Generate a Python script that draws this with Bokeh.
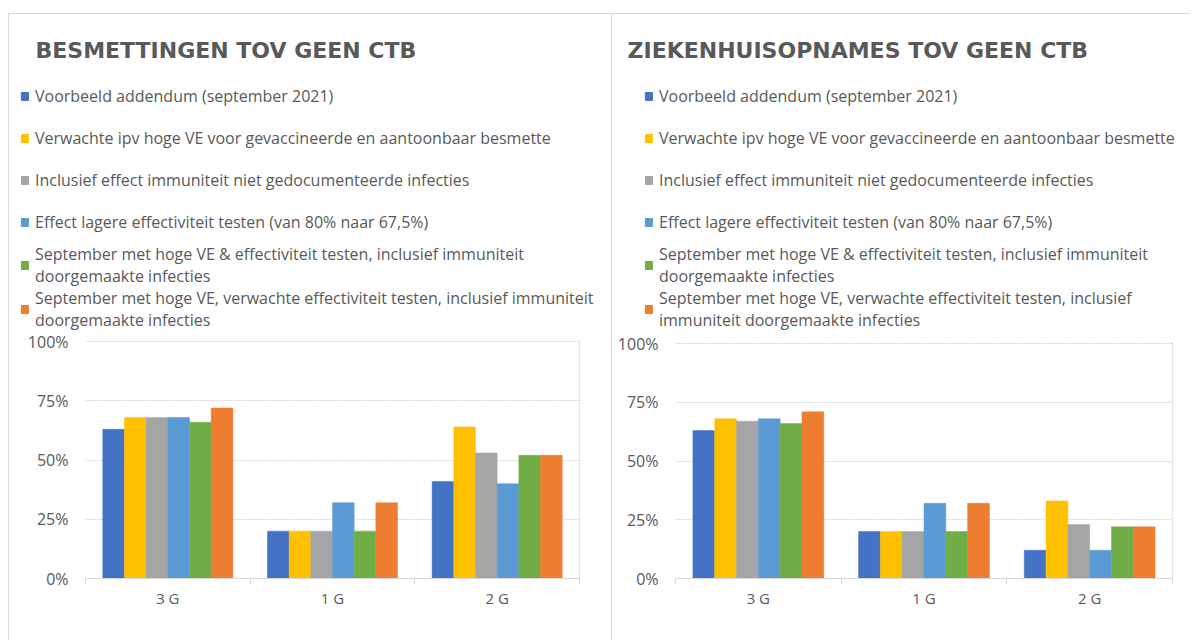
from bokeh.plotting import figure
from bokeh.models import (FixedTicker, Legend, LegendItem, Label, PrintfTickFormatter,
                          Range1d, ColumnDataSource, Spacer, LinearAxis)
from bokeh.layouts import row, column
from bokeh.embed import file_html
from bokeh.resources import INLINE

# ---------------- data ----------------
categories = ["3 G", "1 G", "2 G"]

series_names = [
    "Voorbeeld addendum (september 2021)",
    "Verwachte ipv hoge VE voor gevaccineerde en aantoonbaar besmette",
    "Inclusief effect immuniteit niet gedocumenteerde infecties",
    "Effect lagere effectiviteit testen (van 80% naar 67,5%)",
    "September met hoge VE & effectiviteit testen, inclusief immuniteit doorgemaakte infecties",
    "September met hoge VE, verwachte effectiviteit testen, inclusief immuniteit doorgemaakte infecties",
]
colors = ["#4472C4", "#FFC000", "#A5A5A5", "#5B9BD5", "#70AD47", "#ED7D31"]

# Besmettingen t.o.v. geen CTB (%)
besm_voorbeeld = [63, 20, 41]
besm_verwachte = [68, 20, 64]
besm_inclusief = [68, 20, 53]
besm_lagere = [68, 32, 40]
besm_sept_hoog = [66, 20, 52]
besm_sept_verw = [72, 32, 52]

# Ziekenhuisopnames t.o.v. geen CTB (%)
zkh_voorbeeld = [63, 20, 12]
zkh_verwachte = [68, 20, 33]
zkh_inclusief = [67, 20, 23]
zkh_lagere = [68, 32, 12]
zkh_sept_hoog = [66, 20, 22]
zkh_sept_verw = [71, 32, 22]

y_ticks = [0, 25, 50, 75, 100]

# legend label wrapping per panel
labels_left = [
    series_names[0], series_names[1], series_names[2], series_names[3],
    "September met hoge VE & effectiviteit testen, inclusief immuniteit\ndoorgemaakte infecties",
    "September met hoge VE, verwachte effectiviteit testen, inclusief immuniteit\ndoorgemaakte infecties",
]
labels_right = [
    series_names[0], series_names[1], series_names[2], series_names[3],
    "September met hoge VE & effectiviteit testen, inclusief immuniteit\ndoorgemaakte infecties",
    "September met hoge VE, verwachte effectiviteit testen, inclusief\nimmuniteit doorgemaakte infecties",
]

TEXT = "#595959"
GRID = "#d9d9d9"
FONT = "Open Sans"
TOP_H = 317
NAN = float("nan")


def make_header(title, labels, width, title_x, legend_xy, styles):
    h = figure(width=width, height=TOP_H, min_border=0,
               x_range=Range1d(0, width), y_range=Range1d(0, TOP_H),
               x_axis_type=None, y_axis_type=None,
               output_backend="svg", toolbar_location=None, styles=styles)
    h.frame_align = False
    h.outline_line_color = None
    h.grid.visible = False
    items = []
    for col, lab in zip(colors, labels):
        # legend swatch only (nothing drawn in the plot)
        r = h.vbar(x=[NAN], top=[NAN], width=1, fill_color=col, line_color=col)
        items.append(LegendItem(label=lab, renderers=[r]))
    legend = Legend(items=items, location=legend_xy, orientation="vertical",
                    label_text_font=FONT, label_text_font_size="16px",
                    label_text_color=TEXT, label_text_line_height=1.25,
                    label_height=42, glyph_height=10, glyph_width=9,
                    label_standoff=6, spacing=-1, padding=0, margin=0,
                    border_line_color=None, background_fill_alpha=0)
    h.add_layout(legend)
    t = Label(x=title_x, y=TOP_H - 57 + 21, x_units="screen", y_units="screen",
              text=title, text_font="DejaVu Sans",
              text_font_style="bold", text_font_size="22px", text_color=TEXT,
              text_baseline="alphabetic")
    h.add_layout(t)
    return h


def make_bars(series, width, bl, br, bt, bb, styles):
    p = figure(width=width, height=310, min_border_left=bl, min_border_right=br,
               min_border_top=bt, min_border_bottom=bb,
               x_range=Range1d(0, len(categories)), y_range=Range1d(0, 100.5),
               output_backend="svg", toolbar_location=None, styles=styles)
    p.frame_align = False
    p.outline_line_color = None

    n = len(series)
    group = 0.79
    bw = group / n
    for j, (vals, col) in enumerate(zip(series, colors)):
        xs = [i + 0.5 + (j - (n - 1) / 2) * bw for i in range(len(categories))]
        src = ColumnDataSource(dict(x=xs, top=vals))
        p.vbar(x="x", top="top", width=bw, bottom=0, source=src,
               fill_color=col, line_color=col, line_width=0.5)

    # y axis
    p.yaxis.ticker = FixedTicker(ticks=y_ticks)
    p.yaxis.formatter = PrintfTickFormatter(format="%d%%")
    p.yaxis.axis_line_color = None
    p.yaxis.major_tick_line_color = None
    p.yaxis.minor_tick_line_color = None
    p.yaxis.major_tick_out = 0
    p.yaxis.major_tick_in = 0
    p.yaxis.major_label_standoff = 17
    p.yaxis.major_label_text_font = FONT
    p.yaxis.major_label_text_font_size = "16px"
    p.yaxis.major_label_text_color = TEXT

    # right border line of the plot area (no ticks, no labels)
    ra = LinearAxis(ticker=FixedTicker(ticks=[]), axis_line_color=GRID,
                    axis_line_dash="2 1", major_tick_line_color=None,
                    minor_tick_line_color=None, major_label_text_font_size="0px")
    p.add_layout(ra, "right")

    # x axis: labels at category centres, ticks at boundaries
    centres = [i + 0.5 for i in range(len(categories))]
    bounds = [i for i in range(len(categories) + 1)]
    p.xaxis.ticker = FixedTicker(ticks=centres, minor_ticks=bounds)
    p.xaxis.major_label_overrides = {c: lab for c, lab in zip(centres, categories)}
    p.xaxis.axis_line_color = GRID
    p.xaxis.major_tick_line_color = None
    p.xaxis.major_tick_out = 0
    p.xaxis.major_tick_in = 0
    p.xaxis.minor_tick_line_color = GRID
    p.xaxis.minor_tick_out = 6
    p.xaxis.minor_tick_in = 0
    p.xaxis.major_label_standoff = 3
    p.xaxis.major_label_text_font = FONT
    p.xaxis.major_label_text_font_size = "15px"
    p.xaxis.major_label_text_color = TEXT

    p.ygrid.ticker = FixedTicker(ticks=y_ticks)
    p.ygrid.grid_line_color = GRID
    p.ygrid.grid_line_dash = "2 1"
    p.xgrid.visible = False
    return p


B = f"1px solid {GRID}"
left_head = make_header("BESMETTINGEN TOV GEEN CTB", labels_left, 604, 26, (11, 0),
                        {"border-top": B, "border-left": B, "border-right": B})
left_bars = make_bars([besm_voorbeeld, besm_verwachte, besm_inclusief, besm_lagere,
                       besm_sept_hoog, besm_sept_verw],
                      604, 76, 34, 10, 62, {"border-left": B, "border-right": B})
right_head = make_header("ZIEKENHUISOPNAMES TOV GEEN CTB", labels_right, 578, 15, (32, 0),
                         {"border-top": B})
right_bars = make_bars([zkh_voorbeeld, zkh_verwachte, zkh_inclusief, zkh_lagere,
                        zkh_sept_hoog, zkh_sept_verw],
                       578, 63, 18, 12, 62, {})

layout = column(Spacer(height=13),
                row(Spacer(width=8), column(left_head, left_bars), column(right_head, right_bars)))
open("out.html", "w").write(file_html(layout, INLINE))
